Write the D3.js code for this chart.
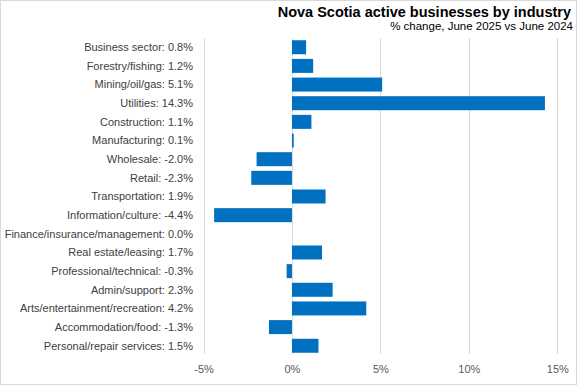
<!DOCTYPE html>
<html><head><meta charset="utf-8">
<script src="https://cdn.jsdelivr.net/npm/d3@7"></script>
<style>
html,body{margin:0;padding:0;background:#fff;}
svg{display:block;font-family:"Liberation Sans","DejaVu Sans",sans-serif;}
</style></head>
<body><svg id="c" width="577" height="385"></svg>
<script>
const categories = ["Business sector","Forestry/fishing","Mining/oil/gas","Utilities","Construction","Manufacturing","Wholesale","Retail","Transportation","Information/culture","Finance/insurance/management","Real estate/leasing","Professional/technical","Admin/support","Arts/entertainment/recreation","Accommodation/food","Personal/repair services"];
const values = [0.8,1.2,5.1,14.3,1.1,0.1,-2.0,-2.3,1.9,-4.4,0.0,1.7,-0.3,2.3,4.2,-1.3,1.5];
const tickValues = [-5,0,5,10,15];
const title = "Nova Scotia active businesses by industry";
const subtitle = "% change, June 2025 vs June 2024";

const svg = d3.select("#c");
const W = 577, H = 385;
svg.append("rect").attr("x",0.5).attr("y",0.5).attr("width",W-1).attr("height",H-1)
  .attr("fill","#fff").attr("stroke","#d9d9d9");

const x = d3.scaleLinear().domain([-5,15]).range([203.5,557.3]);
const y = d3.scaleBand().domain(categories).range([38,355]).paddingInner(0.25).paddingOuter(0.12);

// gridlines
svg.append("g").selectAll("line").data(tickValues).join("line")
  .attr("x1",d=>Math.round(x(d))+0.5).attr("x2",d=>Math.round(x(d))+0.5)
  .attr("y1",38).attr("y2",354)
  .attr("stroke","#d9d9d9").attr("stroke-width",1);

// bars
svg.append("g").selectAll("rect").data(values).join("rect")
  .attr("x",(d)=>x(Math.min(0,d)))
  .attr("width",d=>Math.abs(x(d)-x(0)))
  .attr("y",(d,i)=>y(categories[i]))
  .attr("height",y.bandwidth())
  .attr("fill","#0070C0");

// category labels
svg.append("g").selectAll("text").data(categories).join("text")
  .attr("x",193).attr("y",d=>y(d)+y.bandwidth()/2)
  .attr("dy","0.35em").attr("text-anchor","end")
  .attr("font-size","11px").attr("fill","#404040")
  .text((d,i)=>d+": "+values[i].toFixed(1)+"%");

// x axis
const xAxis = d3.axisBottom(x).tickValues(tickValues).tickSize(0).tickPadding(0).tickFormat(d=>d+"%");
const gx = svg.append("g").attr("transform","translate(0,365)").call(xAxis);
gx.select(".domain").remove();
gx.selectAll("text").attr("font-size","11px").attr("fill","#595959")
  .attr("font-family","'Liberation Sans','DejaVu Sans',sans-serif");

// title
svg.append("text").attr("x",571).attr("y",17).attr("text-anchor","end")
  .attr("font-size","14.5px").attr("font-weight","bold").attr("fill","#000").text(title);
svg.append("text").attr("x",573).attr("y",29.5).attr("text-anchor","end")
  .attr("font-size","11.5px").attr("fill","#000").text(subtitle);
</script>
</body></html>
